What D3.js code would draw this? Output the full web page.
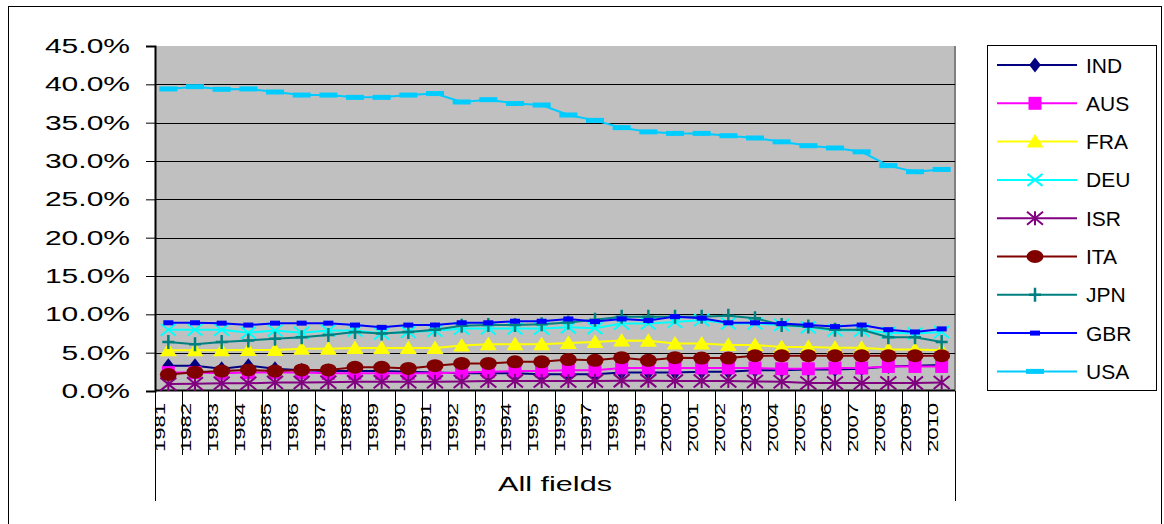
<!DOCTYPE html>
<html>
<head>
<meta charset="utf-8">
<script src="https://cdn.jsdelivr.net/npm/d3@7"></script>
<style>
  body { margin: 0; background: #fff; }
  text { font-family: "Liberation Sans", Arial, sans-serif; fill: #000; }
</style>
</head>
<body>
<svg id="chart" width="1164" height="524"></svg>
<script>

var years = d3.range(1981, 2011).map(String);
var yTicks = [0, 5, 10, 15, 20, 25, 30, 35, 40, 45];

var IND = [3.3, 3.3, 2.9, 3.3, 2.9, 2.7, 2.6, 2.6, 2.6, 2.5, 2.4, 2.3, 2.3, 2.3, 2.2, 2.2, 2.2, 2.4, 2.4, 2.4, 2.5, 2.5, 2.7, 2.7, 2.8, 2.8, 2.9, 3.2, 3.3, 3.4];
var AUS = [2.4, 2.4, 2.3, 2.4, 2.4, 2.4, 2.3, 2.3, 2.3, 2.3, 2.3, 2.4, 2.5, 2.6, 2.6, 2.7, 2.7, 3.0, 3.0, 3.0, 3.0, 3.0, 3.0, 2.9, 2.9, 3.0, 3.0, 3.2, 3.2, 3.2];
var FRA = [5.3, 5.3, 5.3, 5.35, 5.35, 5.5, 5.5, 5.6, 5.6, 5.6, 5.6, 5.95, 6.1, 6.1, 6.1, 6.25, 6.4, 6.6, 6.55, 6.2, 6.2, 6.0, 6.0, 5.75, 5.75, 5.65, 5.65, 5.4, 5.4, 5.3];
var DEU = [8.0, 8.0, 8.0, 7.6, 7.9, 7.6, 7.9, 7.9, 7.5, 7.7, 7.85, 8.15, 8.15, 8.15, 8.15, 8.3, 8.2, 8.8, 8.8, 9.0, 9.25, 8.8, 8.8, 8.6, 8.3, 7.9, 7.9, 7.6, 7.5, 7.7];
var ISR = [0.9, 0.95, 1.0, 1.0, 1.1, 1.1, 1.15, 1.2, 1.2, 1.2, 1.2, 1.25, 1.3, 1.3, 1.3, 1.3, 1.3, 1.35, 1.35, 1.3, 1.3, 1.3, 1.25, 1.2, 1.05, 1.05, 1.05, 1.05, 1.05, 1.1];
var ITA = [2.15, 2.45, 2.6, 2.75, 2.6, 2.75, 2.75, 3.1, 3.1, 2.95, 3.3, 3.6, 3.6, 3.8, 3.8, 4.1, 4.0, 4.35, 4.0, 4.35, 4.3, 4.3, 4.6, 4.6, 4.6, 4.6, 4.6, 4.6, 4.6, 4.6];
var JPN = [6.4, 6.1, 6.4, 6.6, 6.8, 7.0, 7.3, 7.7, 7.5, 7.7, 8.0, 8.5, 8.6, 8.6, 8.7, 8.95, 9.3, 9.7, 9.7, 9.7, 9.7, 9.8, 9.5, 8.6, 8.4, 8.0, 8.0, 7.0, 7.0, 6.4];
var GBR = [8.9, 8.9, 8.85, 8.6, 8.85, 8.85, 8.85, 8.6, 8.3, 8.6, 8.6, 8.9, 8.9, 9.1, 9.1, 9.4, 9.05, 9.4, 9.2, 9.7, 9.5, 8.9, 8.9, 8.8, 8.6, 8.4, 8.6, 8.0, 7.7, 8.1];
var USA = [39.4, 39.7, 39.35, 39.4, 39.0, 38.6, 38.6, 38.3, 38.3, 38.6, 38.8, 37.7, 38.0, 37.5, 37.3, 36.0, 35.3, 34.35, 33.8, 33.6, 33.6, 33.3, 33.0, 32.5, 32.0, 31.7, 31.2, 29.4, 28.6, 28.9];

var series = [
  {name: "IND", values: IND, color: "#000080", marker: "diamond"},
  {name: "AUS", values: AUS, color: "#ff00ff", marker: "square"},
  {name: "FRA", values: FRA, color: "#ffff00", marker: "triangle"},
  {name: "DEU", values: DEU, color: "#00ffff", marker: "x"},
  {name: "ISR", values: ISR, color: "#800080", marker: "star"},
  {name: "ITA", values: ITA, color: "#800000", marker: "circle"},
  {name: "JPN", values: JPN, color: "#008080", marker: "plus"},
  {name: "GBR", values: GBR, color: "#0000ff", marker: "dash"},
  {name: "USA", values: USA, color: "#00ccff", marker: "longdash"}
];

var svg = d3.select("#chart");

// outer frame
svg.append("rect")
  .attr("x", 8.5).attr("y", 6.5)
  .attr("width", 1153).attr("height", 540)
  .attr("fill", "none").attr("stroke", "#000").attr("stroke-width", 1);

var plotLeft = 155, plotRight = 955, plotTop = 46, plotBottom = 391;

var x = d3.scaleBand().domain(years).range([plotLeft, plotRight]);
var y = d3.scaleLinear().domain([0, 45]).range([plotBottom, plotTop]);

// plot background
svg.append("rect")
  .attr("x", plotLeft).attr("y", plotTop)
  .attr("width", plotRight - plotLeft).attr("height", plotBottom - plotTop)
  .attr("fill", "#c0c0c0");

svg.append("line")
  .attr("x1", plotRight).attr("x2", plotRight)
  .attr("y1", plotTop).attr("y2", plotBottom)
  .attr("stroke", "#808080").attr("stroke-width", 2);

// gridlines
svg.append("g").selectAll("line")
  .data(yTicks.filter(function(d) { return d > 0 && d < 45; }))
  .enter().append("line")
  .attr("x1", plotLeft).attr("x2", plotRight)
  .attr("y1", function(d) { return Math.round(y(d)) + 0.5; })
  .attr("y2", function(d) { return Math.round(y(d)) + 0.5; })
  .attr("stroke", "#000").attr("stroke-width", 1);

// y axis
var yAxis = svg.append("g")
  .attr("transform", "translate(" + plotLeft + ",0)")
  .call(d3.axisLeft(y).tickValues(yTicks).tickSize(9).tickPadding(16)
    .tickFormat(function(d) { return d.toFixed(1) + "%"; }));
yAxis.select(".domain").attr("stroke", "#000").attr("stroke-width", 2);
yAxis.selectAll("text")
  .style("font-family", "'Liberation Sans', Arial, sans-serif")
  .style("font-size", "20px").attr("fill", "#000")
  .each(function() {
    // the original labels are drawn wide
    var w = this.getComputedTextLength();
    d3.select(this).attr("textLength", w * 1.5).attr("lengthAdjust", "spacingAndGlyphs");
  });

// x axis line and category dividers
svg.append("line")
  .attr("x1", plotLeft).attr("x2", plotRight)
  .attr("y1", plotBottom - 0.5).attr("y2", plotBottom - 0.5)
  .attr("stroke", "#000").attr("stroke-width", 2);

svg.append("g").selectAll("line")
  .data(years.slice(1))
  .enter().append("line")
  .attr("x1", function(d) { return Math.round(x(d)) + 0.5; })
  .attr("x2", function(d) { return Math.round(x(d)) + 0.5; })
  .attr("y1", plotBottom).attr("y2", 455)
  .attr("stroke", "#000").attr("stroke-width", 1);

[plotLeft, plotRight].forEach(function(px) {
  svg.append("line")
    .attr("x1", px + 0.5).attr("x2", px + 0.5)
    .attr("y1", plotBottom).attr("y2", 501)
    .attr("stroke", "#000").attr("stroke-width", 1);
});

svg.append("g").selectAll("text")
  .data(years)
  .enter().append("text")
  .attr("transform", function(d) {
    return "translate(" + (x(d) + 9.5) + ",403) rotate(-90)";
  })
  .attr("text-anchor", "end")
  .attr("textLength", 49)
  .attr("lengthAdjust", "spacingAndGlyphs")
  .style("font-size", "14.5px")
  .text(function(d) { return d; });

svg.append("text")
  .attr("x", 498).attr("y", 491)
  .attr("textLength", 114)
  .attr("lengthAdjust", "spacingAndGlyphs")
  .style("font-size", "21px")
  .text("All fields");

// markers
function drawMarker(g, type, color, cx, cy) {
  if (type === "diamond") {
    g.append("path").attr("d", d3.symbol(d3.symbolDiamond, 90)())
      .attr("transform", "translate(" + cx + "," + cy + ") scale(1.15,0.85)")
      .attr("fill", color);
  } else if (type === "square") {
    g.append("rect").attr("x", cx - 6.5).attr("y", cy - 6.5)
      .attr("width", 13).attr("height", 13).attr("fill", color);
  } else if (type === "triangle") {
    g.append("path")
      .attr("d", "M" + cx + "," + (cy - 7.5) + "L" + (cx + 8.5) + "," + (cy + 6) + "L" + (cx - 8.5) + "," + (cy + 6) + "Z")
      .attr("fill", color);
  } else if (type === "x") {
    g.append("path")
      .attr("d", "M" + (cx - 7.5) + "," + (cy - 6) + "L" + (cx + 7.5) + "," + (cy + 6) +
        "M" + (cx - 7.5) + "," + (cy + 6) + "L" + (cx + 7.5) + "," + (cy - 6))
      .attr("stroke", color).attr("stroke-width", 2).attr("fill", "none");
  } else if (type === "star") {
    g.append("path")
      .attr("d", "M" + (cx - 8) + "," + (cy - 6.5) + "L" + (cx + 8) + "," + (cy + 6.5) +
        "M" + (cx - 8) + "," + (cy + 6.5) + "L" + (cx + 8) + "," + (cy - 6.5) +
        "M" + cx + "," + (cy - 7) + "L" + cx + "," + (cy + 7))
      .attr("stroke", color).attr("stroke-width", 2).attr("fill", "none");
  } else if (type === "circle") {
    g.append("ellipse").attr("cx", cx).attr("cy", cy)
      .attr("rx", 8.5).attr("ry", 6.5).attr("fill", color);
  } else if (type === "plus") {
    g.append("path")
      .attr("d", "M" + (cx - 6) + "," + cy + "L" + (cx + 6) + "," + cy +
        "M" + cx + "," + (cy - 7) + "L" + cx + "," + (cy + 7))
      .attr("stroke", color).attr("stroke-width", 2.5).attr("fill", "none");
  } else if (type === "dash") {
    g.append("rect").attr("x", cx - 5).attr("y", cy - 2.5)
      .attr("width", 10).attr("height", 5).attr("fill", color);
  } else if (type === "longdash") {
    g.append("rect").attr("x", cx - 9).attr("y", cy - 2.5)
      .attr("width", 18).attr("height", 5).attr("fill", color);
  }
}

var line = d3.line()
  .x(function(d, i) { return x(years[i]) + x.bandwidth() / 2; })
  .y(function(d) { return y(d); });

series.forEach(function(s) {
  var g = svg.append("g");
  g.append("path")
    .attr("d", line(s.values))
    .attr("fill", "none")
    .attr("stroke", s.color)
    .attr("stroke-width", 2);
  s.values.forEach(function(v, i) {
    drawMarker(g, s.marker, s.color, x(years[i]) + x.bandwidth() / 2, y(v));
  });
});

// legend
var legend = svg.append("g");
legend.append("rect")
  .attr("x", 987.5).attr("y", 45.5)
  .attr("width", 169).attr("height", 345)
  .attr("fill", "#fff").attr("stroke", "#000").attr("stroke-width", 1);

series.forEach(function(s, i) {
  var ly = 65 + i * 38.3;
  legend.append("line")
    .attr("x1", 997).attr("x2", 1077)
    .attr("y1", ly).attr("y2", ly)
    .attr("stroke", s.color).attr("stroke-width", 2);
  drawMarker(legend, s.marker, s.color, 1035, ly);
  legend.append("text")
    .attr("x", 1086).attr("y", ly + 7.5)
    .style("font-size", "21px")
    .text(s.name);
});

</script>
</body>
</html>
